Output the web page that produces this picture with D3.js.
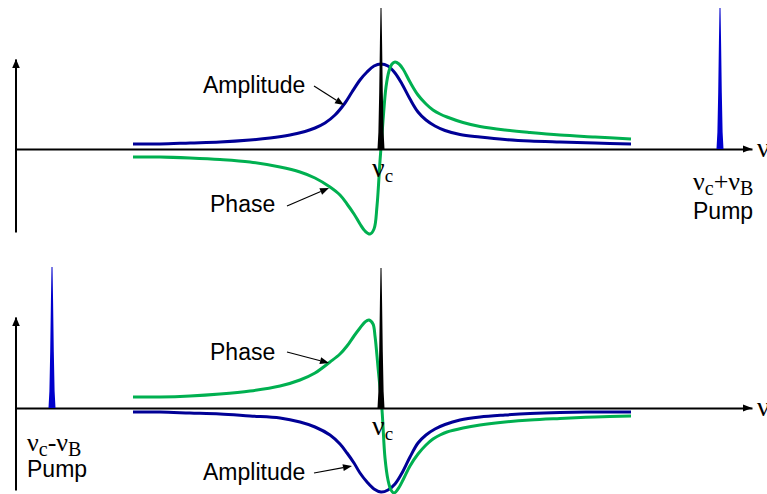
<!DOCTYPE html>
<html><head><meta charset="utf-8">
<script src="https://cdn.jsdelivr.net/npm/d3@7"></script>
<style>body{margin:0;background:#fff}svg{display:block}</style>
</head><body><svg id="c" width="767" height="494"></svg>
<script>
// frequency offset from nu_c (arbitrary units), response value (arbitrary units, + above axis)
const topAmplitude = [[-248,5],[-221,5],[-191,6],[-161,7],[-131,9],[-111,11],[-91,14],[-76,17.5],[-66,21],[-56,26],[-46,34],[-36,46],[-29,57],[-21,69],[-14,77],[-7,83],[0,85],[7,83],[14,76],[21,65],[29,50],[37,37],[45,29],[54,23],[64,18.5],[79,14.5],[99,12],[124,9.5],[149,8],[179,7],[214,6],[250,5]];
const topPhase = [[-248,-8],[-221,-8],[-191,-9],[-161,-10.5],[-131,-13],[-101,-18],[-81,-23],[-66,-29],[-51,-38],[-41,-46],[-34,-55],[-27,-65],[-21,-75],[-16,-82],[-11,-85],[-7,-80],[-4,-57],[-1,-12],[2,28],[5,62],[8,78],[11,85],[14,87],[18,85],[22,80],[29,67],[37,54],[45,45],[52,39],[59,35],[66,32],[82,26.5],[99,22.5],[124,19],[149,16.5],[179,14],[214,12],[250,10]];
const bottomPhase = [[-248,11],[-221,11],[-191,12],[-161,14],[-131,17],[-101,22],[-81,28],[-66,35],[-51,46],[-41,54],[-34,62],[-27,72],[-21,80],[-16,86],[-12,88],[-8,84],[-6,72],[-3,41],[1,-2],[4,-50],[7,-72],[10,-82],[13,-85],[17,-81],[22,-72],[29,-58],[37,-46],[45,-37],[52,-31],[59,-27],[66,-24],[82,-20],[99,-17],[124,-14],[149,-12],[179,-10.5],[214,-9],[250,-8]];
const bottomAmplitude = [[-248,-4],[-221,-4],[-191,-5],[-161,-6],[-131,-8],[-101,-10],[-81,-14],[-66,-19],[-51,-27],[-41,-36],[-34,-45],[-27,-55],[-21,-65],[-14,-74],[-7,-81],[0,-84],[7,-82],[14,-76],[21,-65],[29,-49],[37,-35],[45,-27],[54,-21],[64,-16.5],[79,-12],[99,-9],[124,-7],[149,-5.5],[179,-4.5],[214,-4],[250,-4]];
// spectral lines: position, height, kind
const topLines = [{pos:0,h:141,kind:"carrier"},{pos:339,h:141,kind:"pump"}];
const bottomLines = [{pos:-329,h:141,kind:"pump"},{pos:0,h:140,kind:"carrier"}];
// narrow line profile: offset, fraction of height
const lineProfile = [[-3.5,0],[-2.6,0.12],[-1.8,0.4],[-1.1,0.75],[-0.5,1],[0.5,1],[1.1,0.75],[1.8,0.4],[2.6,0.12],[3.5,0]];

const colors = {amp:"#000096", phase:"#00B050", carrier:"#000000", pump:"#0000CC"};
const svg = d3.select("#c");
const x = d3.scaleLinear().domain([-365, 371]).range([16, 752]);
const yTop = d3.scaleLinear().domain([-100, 100]).range([249, 49]);
const yBot = d3.scaleLinear().domain([-100, 100]).range([508, 308]);

const panels = [
  {y:yTop, amp:topAmplitude, phase:topPhase, lines:topLines, axLo:-83, axHi:90},
  {y:yBot, amp:bottomAmplitude, phase:bottomPhase, lines:bottomLines, axLo:-82, axHi:91}
];

panels.forEach(p => {
  const y = p.y;
  const line = d3.line().x(d => x(d[0])).y(d => y(d[1])).curve(d3.curveCatmullRom.alpha(0.5));
  svg.append("path").datum(p.amp).attr("d", line).attr("fill","none").attr("stroke",colors.amp).attr("stroke-width",3);
  svg.append("path").datum(p.phase).attr("d", line).attr("fill","none").attr("stroke",colors.phase).attr("stroke-width",3);
  // axes (no ticks)
  const gx = svg.append("g").attr("transform",`translate(0,${y(0)})`)
    .call(d3.axisBottom(x).ticks(0).tickSizeOuter(0));
  gx.select(".domain").attr("stroke","#000").attr("stroke-width",2);
  const ya = d3.scaleLinear().domain([p.axLo, p.axHi]).range([y(p.axLo), y(p.axHi)]);
  const gy = svg.append("g").attr("transform",`translate(${x(-365)-0.5},0)`)
    .call(d3.axisLeft(ya).ticks(0).tickSizeOuter(0));
  gy.select(".domain").attr("stroke","#000").attr("stroke-width",2);
  // arrowheads
  const x1 = x(371), y0 = y(0);
  svg.append("path").attr("d",`M${x1},${y0}L${x1-9},${y0-3.5}L${x1-9},${y0+3.5}Z`).attr("fill","#000");
  const yt = y(p.axHi), xa = x(-365);
  svg.append("path").attr("d",`M${xa},${yt}L${xa-3.8},${yt+9}L${xa+3.8},${yt+9}Z`).attr("fill","#000");
  // spectral lines
  p.lines.forEach(l => {
    const sl = d3.line().x(d => x(l.pos + d[0])).y(d => y(d[1]*l.h));
    svg.append("path").datum(lineProfile).attr("d", sl).attr("fill", colors[l.kind]).attr("stroke","none");
  });
});

function arrow(x1,y1,x2,y2){
  const a = Math.atan2(y2-y1,x2-x1), L=9, W=3.5;
  const bx = x2 - L*Math.cos(a), by = y2 - L*Math.sin(a);
  svg.append("line").attr("x1",x1).attr("y1",y1).attr("x2",bx).attr("y2",by).attr("stroke","#000").attr("stroke-width",1.2);
  svg.append("path").attr("d",`M${x2},${y2}L${bx+W*Math.sin(a)},${by-W*Math.cos(a)}L${bx-W*Math.sin(a)},${by+W*Math.cos(a)}Z`).attr("fill","#000");
}
const sans = "'Liberation Sans', Arial, sans-serif";
const serif = "'Liberation Serif', 'Times New Roman', serif";
function label(t,x0,y0){ svg.append("text").attr("x",x0).attr("y",y0).attr("font-family",sans).attr("font-size",23).attr("fill","#000").text(t); }
function nu(parts,x0,y0,size,sub){
  const t = svg.append("text").attr("x",x0).attr("y",y0).attr("font-family",serif).attr("font-size",size).attr("fill","#000");
  parts.forEach(pp => {
    if (pp.sub) t.append("tspan").attr("font-size",sub).attr("dy",5).text(pp.s);
    else t.append("tspan").attr("dy", pp.reset ? -5 : 0).text(pp.s);
  });
}
label("Amplitude",203,93); arrow(314,86,344,105);
label("Phase",210,212); arrow(287,206,329,188);
label("Phase",210,360); arrow(287,352,329,363);
label("Amplitude",203,480); arrow(314,473,352,466);
label("Pump",693,219); label("Pump",27,477);
nu([{s:"ν"},{s:"c",sub:true}],372,177,28,19);
nu([{s:"ν"},{s:"c",sub:true}],372,435,28,19);
nu([{s:"ν"},{s:"c",sub:true},{s:"+",reset:true},{s:"ν"},{s:"B",sub:true}],693,190,26,20);
nu([{s:"ν"},{s:"c",sub:true},{s:"-",reset:true},{s:"ν"},{s:"B",sub:true}],27,451,26,20);
nu([{s:"ν"}],757,157,28,19);
nu([{s:"ν"}],757,416,28,19);
</script></body></html>
